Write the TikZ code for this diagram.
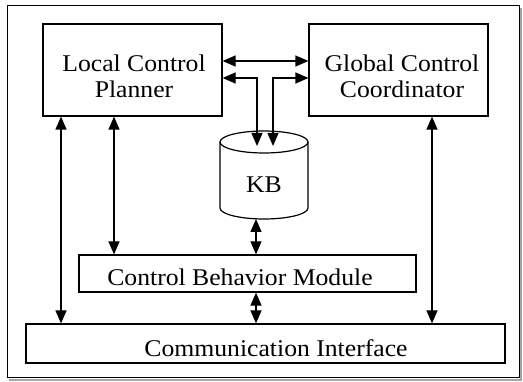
\documentclass[tikz,border=0pt]{standalone}
\usepackage{fontspec}
\setmainfont{Liberation Serif}[FakeStretch=1.07]
\usetikzlibrary{arrows.meta,shapes.geometric}
\begin{document}
\begin{tikzpicture}[x=1pt,y=-1pt,
  box/.style={draw,line width=1.2pt,inner sep=0pt},
  lbl/.style={font=\fontsize{24}{26}\selectfont,align=center,inner sep=0pt},
  tip/.tip={Triangle[length=13pt,width=11pt]},
  conn/.style={line width=1.2pt,tip-tip}]
\useasboundingbox (0,0) rectangle (523,382);
\fill[white] (0,0) rectangle (523,382);
\draw[gray!70,line width=1.2pt] (9,380) -- (521,380) -- (521,8);
\draw[line width=1pt] (7,6) rectangle (519,378);
% boxes
\node[box,minimum width=179pt,minimum height=92pt] (lcp) at (132.5,70) {};
\node[lbl] at (134,76) {Local Control\\Planner};
\node[box,minimum width=179pt,minimum height=92pt] (gcc) at (398.5,70) {};
\node[lbl] at (402,76) {Global Control\\Coordinator};
\node[box,minimum width=337pt,minimum height=37pt] (cbm) at (247.5,273.5) {};
\node[lbl] at (240,277) {Control Behavior Module};
\node[box,minimum width=479pt,minimum height=39pt] (ci) at (265.5,343.5) {};
\node[lbl] at (276,348) {Communication Interface};
% KB cylinder
\draw[line width=1.2pt,fill=white] (220,142) -- (220,208) arc[start angle=180,end angle=360,x radius=44pt,y radius=11pt] -- (308,142);
\draw[line width=1.2pt] (264,142) ellipse[x radius=44pt,y radius=11pt];
\coordinate (kbbot) at (264,219);
\coordinate (kbin1) at (257,146);
\coordinate (kbin2) at (273,146);
\node[lbl] (kb) at (264,185) {KB};
% connectors
\draw[conn] (lcp.east |- 0,61) -- (gcc.west |- 0,61);
\draw[conn] (lcp.east |- 0,78) -| (kbin1);
\draw[conn] (gcc.west |- 0,78) -| (kbin2);
\draw[conn] (lcp.south -| 61,0) -- (ci.north -| 61,0);
\draw[conn] (lcp.south -| 114,0) -- (cbm.north -| 114,0);
\draw[conn] (kbbot -| 256,0) -- (cbm.north -| 256,0);
\draw[conn] (cbm.south -| 256,0) -- (ci.north -| 256,0);
\draw[conn] (gcc.south -| 432,0) -- (ci.north -| 432,0);
\end{tikzpicture}
\end{document}
